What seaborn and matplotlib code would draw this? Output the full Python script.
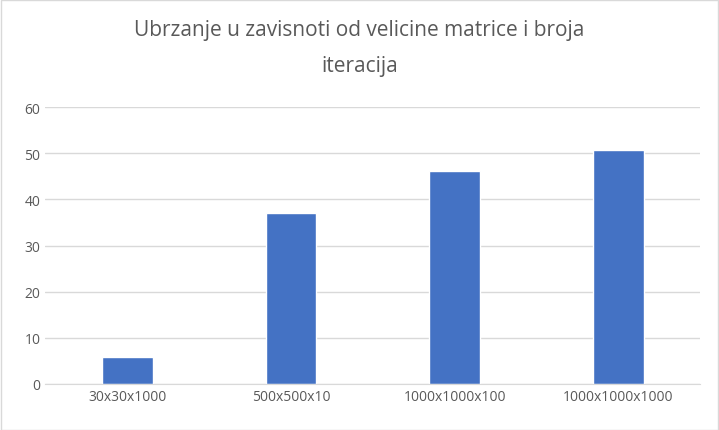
import matplotlib
matplotlib.use("Agg")
import matplotlib.pyplot as plt
import seaborn as sns
import pandas as pd

categories = ["30x30x1000", "500x500x10", "1000x1000x100", "1000x1000x1000"]
values = [5.9, 37.1, 46.2, 50.7]

sns.set_style("white")
plt.rcParams['font.family'] = ['Open Sans', 'DejaVu Sans']

fig = plt.figure(figsize=(7.19, 4.31), dpi=100)
ax = fig.add_axes([0.063, 0.107, 0.911, 0.642])
df = pd.DataFrame({"cat": categories, "val": values})
sns.barplot(data=df, x="cat", y="val", color="#4472C4", width=0.31, ax=ax, saturation=1)
ax.set_ylim(0, 60)
ax.set_yticks(range(0, 61, 10))
ax.yaxis.grid(True, color="#D9D9D9", linewidth=1)
ax.set_axisbelow(True)
for s in ["top", "right", "left"]:
    ax.spines[s].set_visible(False)
ax.spines["bottom"].set_color("#D9D9D9")
ax.tick_params(axis="both", colors="#595959", labelsize=10, length=0)
ax.set_xlabel("")
ax.set_ylabel("")
fig.text(0.5, 0.93, "Ubrzanje u zavisnoti od velicine matrice i broja", ha="center", va="center", fontsize=15, color="#595959")
fig.text(0.5, 0.845, "iteracija", ha="center", va="center", fontsize=15, color="#595959")
fig.patches.append(plt.Rectangle((0.001, 0.001), 0.997, 0.997, transform=fig.transFigure, fill=False, edgecolor="#D9D9D9", linewidth=1))
fig.savefig("out.png", dpi=100)
